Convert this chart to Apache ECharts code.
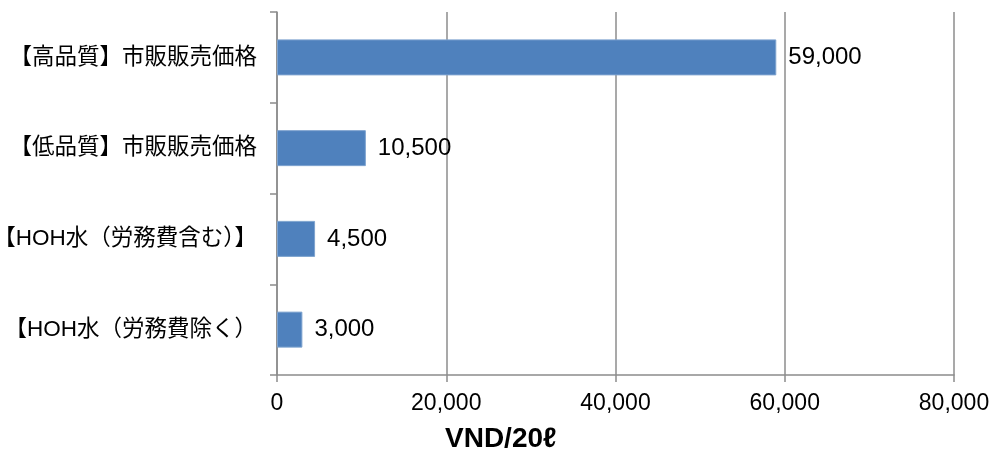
<!DOCTYPE html>
<html>
<head>
<meta charset="utf-8">
<script src="https://cdn.jsdelivr.net/npm/echarts@6/dist/echarts.min.js"></script>
<style>
  html, body { margin: 0; padding: 0; background: #fff; }
  #chart { width: 989px; height: 456px; }
</style>
</head>
<body>
<div id="chart"></div>
<script>
// data, listed top to bottom as in the picture
var categories = [
    '【高品質】市販販売価格',
    '【低品質】市販販売価格',
    '【HOH水（労務費含む）】',
    '【HOH水（労務費除く）'
];
var prices = [59000, 10500, 4500, 3000];
var xTicks = [0, 20000, 40000, 60000, 80000];
var unitName = 'VND/20ℓ';

var fontMain = '"Liberation Sans", Arial, "Noto Sans CJK JP", sans-serif';
var gridGray = '#8c8c8c';

function fmt(v) {
    return Number(v).toLocaleString('en-US');
}

var chart = echarts.init(document.getElementById('chart'), null, { renderer: 'canvas' });

var option = {
    backgroundColor: '#fff',
    animation: false,
    title: {
        text: unitName,
        left: 445,
        top: 425,
        padding: 0,
        textStyle: {
            fontFamily: fontMain,
            fontSize: 28,
            fontWeight: 'bold',
            color: '#000'
        }
    },
    grid: {
        left: 277,
        right: 35,
        top: 12,
        bottom: 81,
        containLabel: false,
        outerBoundsMode: 'none'
    },
    xAxis: {
        type: 'value',
        min: xTicks[0],
        max: xTicks[xTicks.length - 1],
        interval: xTicks[1] - xTicks[0],
        axisLine: { show: true, lineStyle: { color: gridGray, width: 1.5 } },
        axisTick: { show: true, length: 7, lineStyle: { color: gridGray, width: 1.5 } },
        splitLine: { show: true, lineStyle: { color: gridGray, width: 1.5 } },
        axisLabel: {
            margin: 17,
            fontFamily: fontMain,
            fontSize: 23,
            color: '#000',
            formatter: fmt
        }
    },
    yAxis: {
        type: 'category',
        data: categories,
        inverse: true,
        axisLine: { show: true, lineStyle: { color: gridGray, width: 1.5 } },
        axisTick: { show: true, length: 7, lineStyle: { color: gridGray, width: 1.5 } },
        axisLabel: {
            margin: 20,
            fontFamily: fontMain,
            fontSize: 22.5,
            color: '#000'
        }
    },
    series: [
        {
            type: 'bar',
            data: prices,
            barWidth: 36,
            itemStyle: {
                color: '#4f81bd',
                borderColor: '#7ea3cf',
                borderWidth: 1
            },
            label: {
                show: true,
                position: 'right',
                distance: 12,
                fontFamily: fontMain,
                fontSize: 24,
                color: '#000',
                formatter: function (p) {
                    return fmt(p.value);
                }
            }
        }
    ]
};

chart.setOption(option);
</script>
</body>
</html>
